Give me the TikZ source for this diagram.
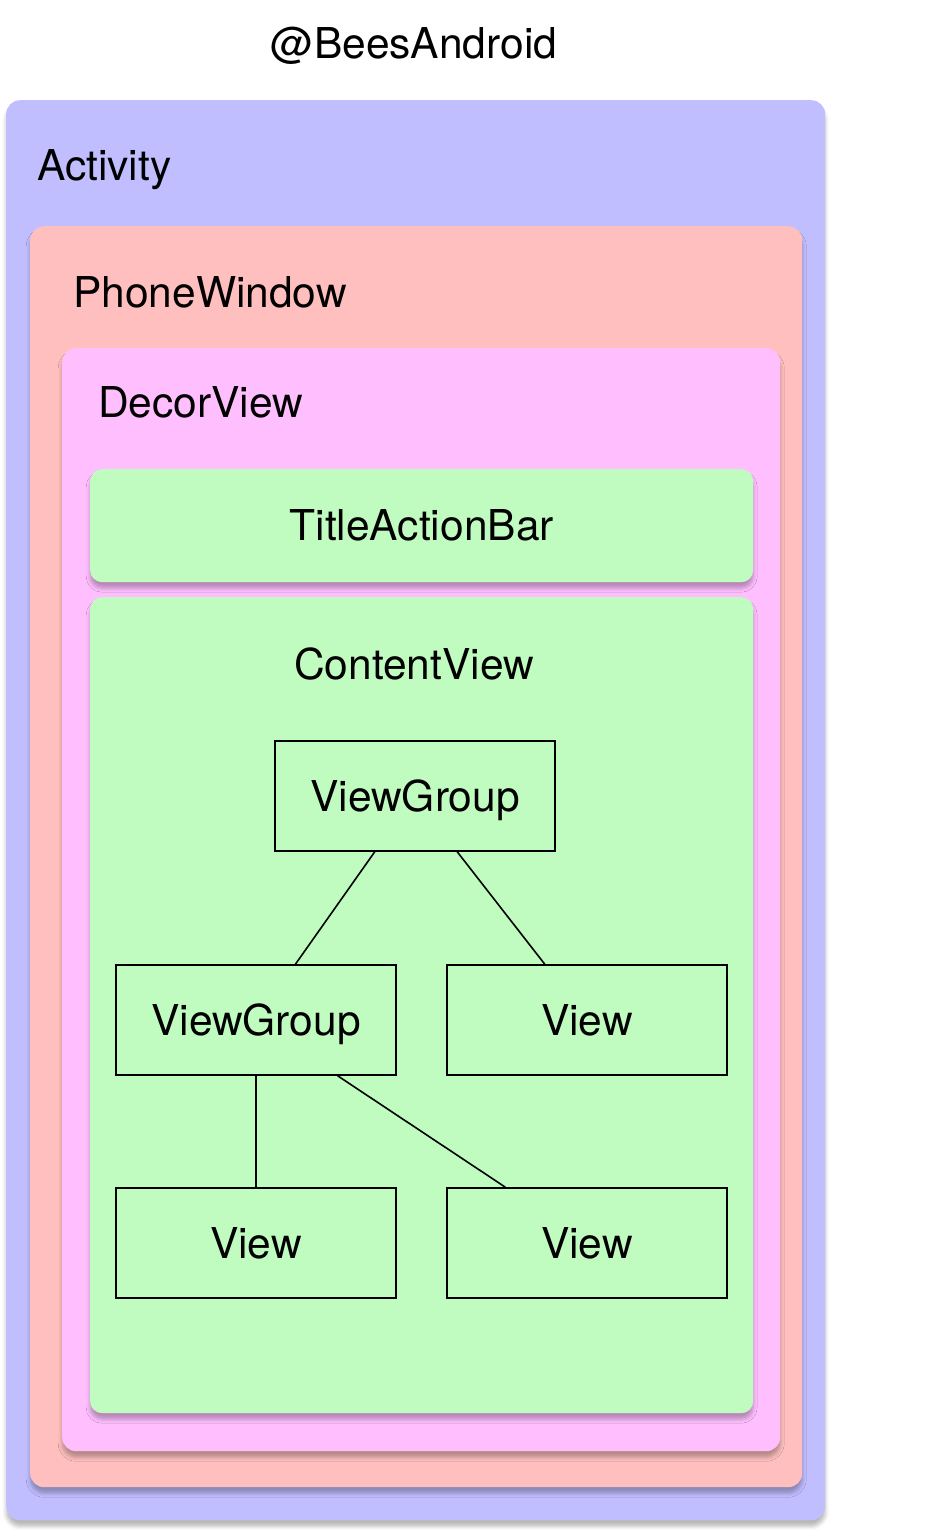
\documentclass[tikz,border=0pt]{standalone}
\usepackage{fontspec}
\setmainfont{TeX Gyre Heros}
\usetikzlibrary{calc,shadows.blur}
\definecolor{actfill}{HTML}{C0BEFF}
\definecolor{winfill}{HTML}{FFBFBF}
\definecolor{decorfill}{HTML}{FFBFFF}
\definecolor{viewfill}{HTML}{C0FCC0}
\begin{document}
\begin{tikzpicture}[x=1pt,y=-1pt,
  every node/.style={font=\fontsize{42.5}{50}\selectfont, inner sep=0pt},
  layer/.style={anchor=north west, rounded corners=14pt,
    blur shadow={shadow xshift=0pt, shadow yshift=-6pt, shadow blur radius=4pt, shadow opacity=28}},
  caption/.style={anchor=base west},
  ctitle/.style={anchor=center, text height=30.5pt, text depth=0pt},
  vbox/.style={draw=black, line width=1.6pt, fill=viewfill, minimum width=280pt, minimum height=110pt,
    text height=30.5pt, text depth=0pt},
  link/.style={draw=black, line width=1.6pt}]
\useasboundingbox (0,0) rectangle (950,1530);

\node[ctitle] (brand) at (414,43) {@BeesAndroid};

% nested containers
\node[layer, fill=actfill, minimum width=819pt, minimum height=1420pt] (activity) at (6,100) {};
\node[caption] (activitylbl) at (37,181) {Activity};

\node[layer, fill=winfill, minimum width=772pt, minimum height=1261pt] (window) at (30,226) {};
\node[caption] (windowlbl) at (73,307) {PhoneWindow};

\node[layer, fill=decorfill, minimum width=718pt, minimum height=1103pt] (decor) at (62,348) {};
\node[caption] (decorlbl) at (98,417) {DecorView};

\node[layer, rounded corners=12pt, fill=viewfill, minimum width=663pt, minimum height=113pt] (titlebar) at (90,469) {};
\node[ctitle] (titlelbl) at (titlebar.center) {TitleActionBar};

\node[layer, rounded corners=12pt, fill=viewfill, minimum width=663pt, minimum height=816pt] (content) at (90,597) {};
\node[ctitle] (contentlbl) at (414,664) {ContentView};

% view hierarchy
\node[vbox] (vgtop) at (415,796) {ViewGroup};
\node[vbox] (vgleft) at (256,1020) {ViewGroup};
\node[vbox] (vright) at (587,1020) {View};
\node[vbox] (vbl) at (256,1243) {View};
\node[vbox] (vbr) at (587,1243) {View};

\draw[link] ($(vgtop.south west)!0.357!(vgtop.south east)$) -- ($(vgleft.north west)!0.64!(vgleft.north east)$);
\draw[link] ($(vgtop.south west)!0.65!(vgtop.south east)$) -- ($(vright.north west)!0.35!(vright.north east)$);
\draw[link] (vgleft.south) -- (vbl.north);
\draw[link] ($(vgleft.south west)!0.79!(vgleft.south east)$) -- ($(vbr.north west)!0.21!(vbr.north east)$);
\end{tikzpicture}
\end{document}
